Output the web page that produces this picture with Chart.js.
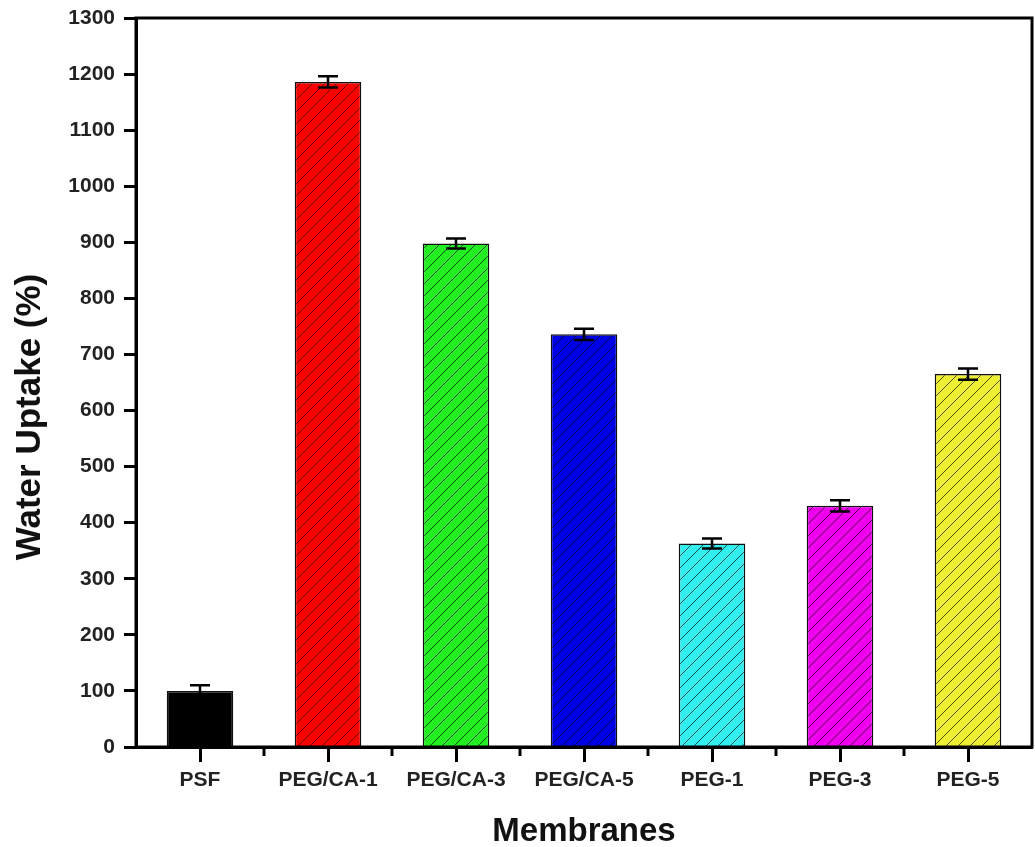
<!DOCTYPE html>
<html>
<head>
<meta charset="utf-8">
<script src="https://cdn.jsdelivr.net/npm/chart.js@4"></script>
<style>
  html, body { margin: 0; padding: 0; background: #fff; }
  #wrap { width: 1035px; height: 847px; }
</style>
</head>
<body>
<div id="wrap"><canvas id="uptakeChart" width="1035" height="847"></canvas></div>
<script>
const membranes = ['PSF', 'PEG/CA-1', 'PEG/CA-3', 'PEG/CA-5', 'PEG-1', 'PEG-3', 'PEG-5'];
const waterUptake = [100, 1186, 898, 736, 363, 430, 665];
const uptakeError = [10, 10, 9, 10, 9, 10, 10];
const barColors = ['#000000', '#ff0000', '#22ee22', '#0000e6', '#33eeee', '#ee00ee', '#eeee33'];
const yTicks = [0, 100, 200, 300, 400, 500, 600, 700, 800, 900, 1000, 1100, 1200, 1300];
const xTitle = 'Membranes';
const yTitle = 'Water Uptake (%)';

// diagonal hatch "///" over the fill colour
function hatch(color) {
    if (color === '#000000') return color;
    const size = 12;
    const c = document.createElement('canvas');
    c.width = size; c.height = size;
    const g = c.getContext('2d');
    g.fillStyle = color;
    g.fillRect(0, 0, size, size);
    g.strokeStyle = 'rgba(0,0,0,0.65)';
    g.lineWidth = 1;
    g.beginPath();
    g.moveTo(0, size); g.lineTo(size, 0);
    g.moveTo(-size / 2, size / 2); g.lineTo(size / 2, -size / 2);
    g.moveTo(size / 2, size * 1.5); g.lineTo(size * 1.5, size / 2);
    g.stroke();
    return g.createPattern(c, 'repeat');
}

const frameAndErrors = {
    id: 'frameAndErrors',
    afterDatasetsDraw(chart) {
        const ctx = chart.ctx;
        const y = chart.scales.y;
        const x = chart.scales.x;
        const area = chart.chartArea;
        ctx.save();
        // error bars
        ctx.strokeStyle = '#000';
        ctx.lineWidth = 2.5;
        chart.getDatasetMeta(0).data.forEach((bar, i) => {
            const top = y.getPixelForValue(waterUptake[i] + uptakeError[i]);
            const bot = y.getPixelForValue(waterUptake[i] - uptakeError[i]);
            ctx.beginPath();
            ctx.moveTo(bar.x, top); ctx.lineTo(bar.x, bot);
            ctx.moveTo(bar.x - 10, top); ctx.lineTo(bar.x + 10, top);
            ctx.moveTo(bar.x - 10, bot); ctx.lineTo(bar.x + 10, bot);
            ctx.stroke();
        });
        // box frame
        ctx.lineWidth = 3;
        ctx.strokeRect(area.left, area.top, area.right - area.left, area.bottom - area.top);
        // minor x ticks between categories
        for (let i = 0; i < membranes.length - 1; i++) {
            const px = (x.getPixelForValue(i) + x.getPixelForValue(i + 1)) / 2;
            ctx.beginPath();
            ctx.moveTo(px, area.bottom); ctx.lineTo(px, area.bottom + 9);
            ctx.stroke();
        }
        // axis titles
        ctx.fillStyle = '#111';
        ctx.textAlign = 'center';
        ctx.textBaseline = 'middle';
        ctx.font = 'bold 33px "Liberation Sans"';
        ctx.fillText(xTitle, (area.left + area.right) / 2, 832);
        ctx.translate(30, 417);
        ctx.rotate(-Math.PI / 2);
        ctx.font = 'bold 35px "Liberation Sans"';
        ctx.fillText(yTitle, 0, 0);
        ctx.restore();
    }
};

const ctx = document.getElementById('uptakeChart').getContext('2d');
const uptakeChart = new Chart(ctx, {
    type: 'bar',
    data: {
        labels: membranes,
        datasets: [{
            data: waterUptake,
            backgroundColor: barColors.map(hatch),
            borderColor: '#111',
            borderWidth: 1.5,
            categoryPercentage: 1,
            barPercentage: 0.52
        }]
    },
    options: {
        responsive: false,
        animation: false,
        layout: { padding: { top: 18, right: 3, left: 0, bottom: 0 } },
        plugins: { legend: { display: false }, tooltip: { enabled: false } },
        scales: {
            y: {
                min: 0,
                max: 1300,
                afterBuildTicks: scale => { scale.ticks = yTicks.map(v => ({ value: v })); },
                afterFit: scale => {
                    scale.width = 136;
                    scale.paddingTop = 0;
                    scale.paddingBottom = 0;
                },
                border: { display: true, color: '#000', width: 3 },
                grid: { drawOnChartArea: false, color: '#000', tickLength: 12, tickWidth: 3 },
                ticks: {
                    color: '#222',
                    padding: 9,
                    callback: v => String(v),
                    font: { family: 'Liberation Sans', size: 21, weight: 'bold' }
                }
            },
            x: {
                afterFit: scale => { scale.height = 100; },
                border: { display: true, color: '#000', width: 3 },
                grid: { offset: false, drawOnChartArea: false, color: '#000', tickLength: 15, tickWidth: 3 },
                ticks: {
                    color: '#222',
                    padding: 6,
                    maxRotation: 0,
                    font: { family: 'Liberation Sans', size: 21, weight: 'bold' }
                }
            }
        }
    },
    plugins: [frameAndErrors]
});
</script>
</body>
</html>
